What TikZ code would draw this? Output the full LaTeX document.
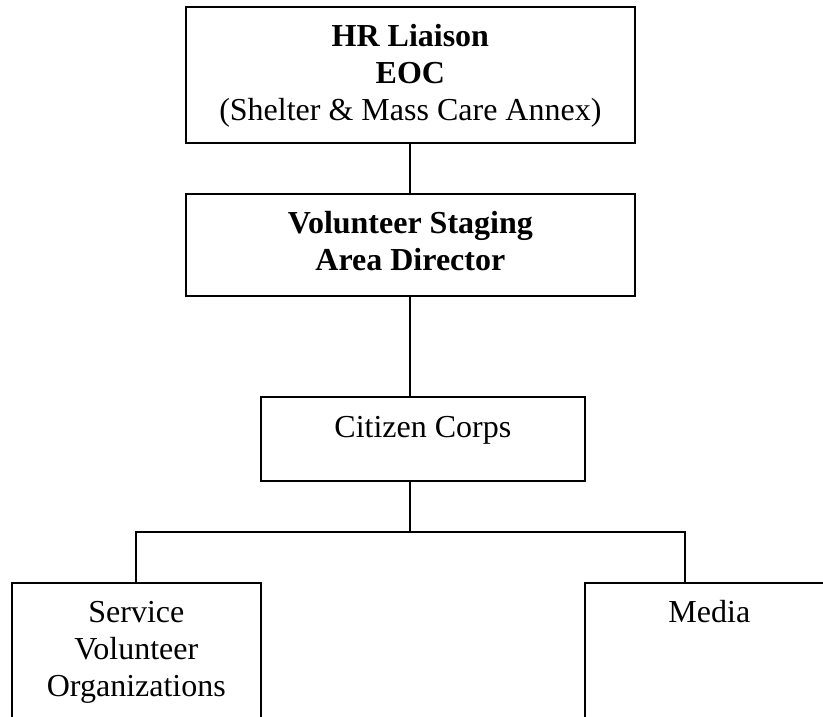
\documentclass[tikz,border=0pt]{standalone}
\usepackage{fontspec}
\setmainfont{Liberation Serif}

\begin{document}
\begin{tikzpicture}[x=1pt, y=-1pt]
	\tikzstyle{every node}=[align=center, inner sep=0pt, font=\fontsize{32}{37}\selectfont]
	\tikzstyle{box}=[draw, line width=1.7pt, anchor=north west]
	\tikzstyle{link}=[line width=1.7pt]
	\useasboundingbox (0, 0) rectangle (823, 717);
	\clip (0, 0) rectangle (823, 717);

	% boxes
	\node[box, minimum width=449pt, minimum height=136pt] (HR) at (185, 6) {};
	\node[box, minimum width=449pt, minimum height=102pt] (VSAD) at (185, 193) {};
	\node[box, minimum width=324pt, minimum height=84pt] (CC) at (260, 396) {};
	\node[box, minimum width=249pt, minimum height=160pt] (SVO) at (11, 582) {};
	\node[box, minimum width=249pt, minimum height=160pt] (MED) at (584, 582) {};

	% texts (base = last line)
	\node[anchor=base] (HRt) at ([yshift=-115pt]HR.north) {\textbf{HR Liaison}\\ \textbf{EOC}\\ (Shelter \& Mass Care Annex)};
	\node[anchor=base] (VSADt) at ([yshift=-77pt]VSAD.north) {\textbf{Volunteer Staging}\\ \textbf{Area Director}};
	\node[anchor=base] (CCt) at ([yshift=-41pt]CC.north) {Citizen Corps};
	\node[anchor=base] (SVOt) at ([yshift=-114pt]SVO.north) {Service\\ Volunteer\\ Organizations};
	\node[anchor=base] (MEDt) at ([yshift=-40pt]MED.north) {Media};

	% connectors
	\coordinate (busL) at (136, 532);
	\coordinate (busR) at (685, 532);
	\coordinate (busM) at (410, 532);

	\draw[link] (HR.south -| busM) to (VSAD.north -| busM);
	\draw[link] (VSAD.south -| busM) to (CC.north -| busM);
	\draw[link] (CC.south -| busM) to (busM);
	\draw[link, line cap=rect] (busL) to (busR);
	\draw[link] (busL) to (busL |- SVO.north);
	\draw[link] (busR) to (busR |- MED.north);
\end{tikzpicture}
\end{document}
